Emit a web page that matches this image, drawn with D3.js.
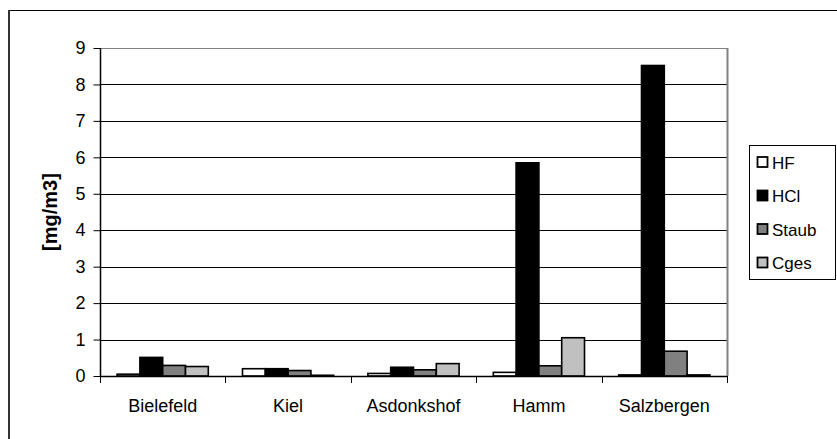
<!DOCTYPE html>
<html><head><meta charset="utf-8">
<script src="https://cdn.jsdelivr.net/npm/d3@7"></script>
<style>body{margin:0;background:#fff;}svg{display:block;} text{font-family:"Liberation Sans", Arial, sans-serif;}</style>
</head><body>
<script>
const categories = ["Bielefeld","Kiel","Asdonkshof","Hamm","Salzbergen"];
const seriesNames = ["HF","HCl","Staub","Cges"];
const HF    = [0.05, 0.20, 0.07, 0.10, 0.03];
const HCl   = [0.51, 0.20, 0.24, 5.85, 8.52];
const Staub = [0.29, 0.15, 0.17, 0.28, 0.68];
const Cges  = [0.26, 0.02, 0.34, 1.05, 0.03];
const yTicks = [0,1,2,3,4,5,6,7,8,9];
const colors = ["#ffffff","#000000","#808080","#c0c0c0"];
const values = [HF, HCl, Staub, Cges];
const FONT = '"Liberation Sans", Arial, sans-serif';

const W = 837, H = 439;
const svg = d3.select("body").append("svg").attr("width", W).attr("height", H);
svg.append("rect").attr("width", W).attr("height", H).attr("fill", "#fff");
svg.append("line").attr("x1", 8).attr("x2", W).attr("y1", 10.5).attr("y2", 10.5).attr("stroke", "#000");
svg.append("line").attr("x1", 9).attr("x2", 9).attr("y1", 10).attr("y2", H).attr("stroke", "#333").attr("stroke-width", 2);

const L = 100, R = 727, T = 48, B = 376;
const x = d3.scaleBand().domain(categories).range([L, R]).paddingInner(0).paddingOuter(0);
const y = d3.scaleLinear().domain([0, 9]).range([B, T]);
const bw = x.bandwidth() / 5.5;
const xs = d3.scaleBand().domain(seriesNames).range([0, bw * 4]);
const off = (x.bandwidth() - bw * 4) / 2;

// gridlines
svg.append("g").selectAll("line").data(yTicks.filter(d => d > 0)).join("line")
  .attr("x1", L).attr("x2", R).attr("y1", d => Math.round(y(d)) + 0.5).attr("y2", d => Math.round(y(d)) + 0.5)
  .attr("stroke", d => d === 9 ? "#808080" : "#000").attr("stroke-width", 1);
// right border
svg.append("line").attr("x1", R + 0.5).attr("x2", R + 0.5).attr("y1", T).attr("y2", B)
  .attr("stroke", "#808080").attr("stroke-width", 2);

// bars
const data = [];
categories.forEach((c, i) => seriesNames.forEach((s, j) => data.push({c, s, v: values[j][i], col: colors[j]})));
svg.append("g").selectAll("rect").data(data).join("rect")
  .attr("x", d => x(d.c) + off + xs(d.s))
  .attr("y", d => y(d.v))
  .attr("width", bw)
  .attr("height", d => y(0) - y(d.v))
  .attr("fill", d => d.col).attr("stroke", "#000").attr("stroke-width", 1.6);

// y axis
const yAxis = d3.axisLeft(y).tickValues(yTicks).tickSize(7).tickPadding(8).tickFormat(d3.format("d"));
const gy = svg.append("g").attr("transform", `translate(${L + 0.5},0)`).call(yAxis);
gy.select(".domain").attr("d", `M0,${y(0)}V${T}`).attr("stroke", "#000").attr("stroke-width", 1.5);
gy.selectAll(".tick line").attr("stroke", "#000");
gy.selectAll("text").style("font-family", FONT).attr("font-size", 18).attr("fill", "#000");

// x axis
const xAxis = d3.axisBottom(x).tickSize(0).tickPadding(23);
const gx = svg.append("g").attr("transform", `translate(0,${B + 0.5})`).call(xAxis);
gx.select(".domain").attr("stroke", "#000").attr("stroke-width", 1.5).attr("d", `M${L},0H${R}`);
gx.selectAll("text").style("font-family", FONT).attr("font-size", 18).attr("fill", "#000");
const bounds = categories.map(c => x(c)).concat([R]);
svg.append("g").selectAll("line").data(bounds).join("line")
  .attr("x1", d => Math.round(d) + 0.5).attr("x2", d => Math.round(d) + 0.5)
  .attr("y1", B).attr("y2", B + 7).attr("stroke", "#000").attr("stroke-width", 1);

// y title
svg.append("text").attr("transform", `translate(57,${(T + B) / 2}) rotate(-90)`)
  .attr("text-anchor", "middle").style("font-family", FONT)
  .attr("font-size", 20).attr("font-weight", "bold").text("[mg/m3]");

// legend
const lg = svg.append("g").attr("transform", "translate(749,145)");
lg.append("rect").attr("x", 0.5).attr("y", 0.5).attr("width", 86).attr("height", 134)
  .attr("fill", "#fff").attr("stroke", "#000").attr("stroke-width", 1);
const items = lg.selectAll("g").data(seriesNames).join("g")
  .attr("transform", (d, i) => `translate(8,${17 + i * 33.5})`);
items.append("rect").attr("x", 0.5).attr("y", -5).attr("width", 10).attr("height", 10)
  .attr("fill", (d, i) => colors[i]).attr("stroke", "#000").attr("stroke-width", 1.8);
items.append("text").attr("x", 15).attr("y", 6.5).style("font-family", FONT)
  .attr("font-size", 17).text(d => d);
</script>
</body></html>
